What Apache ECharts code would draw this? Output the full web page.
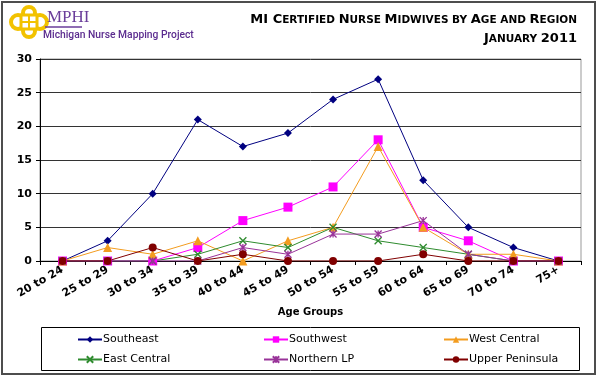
<!DOCTYPE html>
<html><head><meta charset="utf-8">
<script src="https://cdn.jsdelivr.net/npm/echarts@6/dist/echarts.min.js"></script>
<style>html,body{margin:0;padding:0;background:#fff}#c{width:600px;height:378px}</style>
</head><body><div id="c"></div>
<script>
const categories = ['20 to 24','25 to 29','30 to 34','35 to 39','40 to 44','45 to 49','50 to 54','55 to 59','60 to 64','65 to 69','70 to 74','75+'];
const southeast      = [0,3,10,21,17,19,24,27,12,5,2,0];
const southwest      = [0,0,0,2,6,8,11,18,5,3,0,0];
const westCentral    = [0,2,1,3,0,3,5,17,5,1,1,0];
const eastCentral    = [0,0,0,1,3,2,5,3,2,1,0,0];
const northernLP     = [0,0,0,0,2,1,4,4,6,1,0,0];
const upperPeninsula = [0,0,2,0,1,0,0,0,1,0,0,0];
const yTicks = [0,5,10,15,20,25,30];

const FONT = 'DejaVu Sans';
const chart = echarts.init(document.getElementById('c'));

function ser(name, data, color, symbol, size, hollow){
  return {name, type:'line', data, symbol, symbolSize:size,
    lineStyle:{color, width:1},
    itemStyle: hollow ? {color:'rgba(0,0,0,0)', borderColor:color, borderWidth:1.3} : {color},
    showSymbol:true, animation:false};
}
const xPath = 'path://M0,0 L10,10 M10,0 L0,10';
const starPath = 'path://M0,0 L10,10 M10,0 L0,10 M5,0 L5,10';

const richTitle = {
  b:{fontFamily:FONT, fontWeight:'bold', fontSize:13, fill:'#000', color:'#000'},
  s:{fontFamily:FONT, fontWeight:'bold', fontSize:10.5, fill:'#000', color:'#000'}
};
const legendCommon = {orient:'vertical', itemWidth:24, itemHeight:8, itemGap:9,
  textStyle:{fontFamily:FONT, fontSize:11, color:'#000', padding:[0,0,0,-4]}};
const gold = '#f2c200';

chart.setOption({
  animation:false,
  backgroundColor:'#fff',
  grid:{left:40, right:19, top:59, bottom:117, show:true, borderColor:'#999', borderWidth:1, backgroundColor:'#fff'},
  xAxis:{
    type:'category', data:categories, boundaryGap:true,
    name:'Age Groups', nameLocation:'middle', nameGap:46,
    nameTextStyle:{fontFamily:FONT, fontWeight:'bold', fontSize:10, color:'#000'},
    axisLine:{lineStyle:{color:'#000', width:1}},
    axisTick:{show:true, length:4, lineStyle:{color:'#000'}},
    axisLabel:{rotate:30, fontFamily:FONT, fontWeight:'bold', fontSize:11, color:'#000', margin:8, interval:0}
  },
  yAxis:{
    type:'value', min:0, max:30, interval:5,
    axisLine:{show:true, lineStyle:{color:'#000'}},
    axisTick:{show:true, length:4, lineStyle:{color:'#000'}},
    axisLabel:{fontFamily:FONT, fontWeight:'bold', fontSize:11, color:'#000', margin:8,
      formatter:v=>yTicks.includes(v)?String(v):''},
    splitLine:{lineStyle:{color:'#333', width:1}}
  },
  legend:[
    Object.assign({left:72, top:329, data:['Southeast','East Central']}, legendCommon),
    Object.assign({left:258, top:329, data:['Southwest','Northern LP']}, legendCommon),
    Object.assign({left:438, top:329, data:['West Central','Upper Peninsula']}, legendCommon)
  ],
  graphic:[
    {type:'rect', shape:{x:2, y:2, width:593, height:372}, style:{fill:null, stroke:'#4d4d4d', lineWidth:2}, z:-10},
    {type:'rect', shape:{x:41.5, y:327.5, width:538, height:43}, style:{fill:null, stroke:'#000', lineWidth:1}},
    {type:'text', x:577, y:20, style:{
      text:'{b|MI C}{s|ERTIFIED }{b|N}{s|URSE }{b|M}{s|IDWIVES BY }{b|A}{s|GE AND }{b|R}{s|EGION}',
      rich:richTitle, align:'right', verticalAlign:'middle'}},
    {type:'text', x:577, y:39, style:{
      text:'{b|J}{s|ANUARY }{b|2011}',
      rich:richTitle, align:'right', verticalAlign:'middle'}},
    // logo knot
    {type:'group', x:8, y:6, children:[
      {type:'circle', shape:{cx:10, cy:16, r:7}, style:{fill:null, stroke:gold, lineWidth:4}},
      {type:'circle', shape:{cx:32, cy:16, r:7}, style:{fill:null, stroke:gold, lineWidth:4}},
      {type:'circle', shape:{cx:21, cy:7, r:6}, style:{fill:null, stroke:gold, lineWidth:4}},
      {type:'circle', shape:{cx:21, cy:25, r:6}, style:{fill:null, stroke:gold, lineWidth:4}},
      {type:'rect', shape:{x:13, y:9, width:16, height:14}, style:{fill:'#fff', stroke:gold, lineWidth:3}},
      {type:'line', shape:{x1:13, y1:16, x2:29, y2:16}, style:{stroke:gold, lineWidth:2}},
      {type:'line', shape:{x1:21, y1:9, x2:21, y2:23}, style:{stroke:gold, lineWidth:2}}
    ]},
    {type:'text', x:47, y:9, style:{text:'MPHI', fontFamily:'Liberation Serif', fontSize:17, fill:'#6a3d9a'}},
    {type:'line', shape:{x1:45, y1:27, x2:82, y2:27}, style:{stroke:'#6a3d9a', lineWidth:1.5}},
    {type:'text', x:43, y:30, style:{text:'Michigan Nurse Mapping Project', fontFamily:'Roboto', fontWeight:500, fontSize:10.3, fill:'#5b2c8f'}}
  ],
  series:[
    ser('Southeast', southeast, '#000080', 'diamond', 8),
    ser('Southwest', southwest, '#ff00ff', 'rect', 9),
    ser('West Central', westCentral, '#f39c1f', 'triangle', 9),
    ser('East Central', eastCentral, '#2e8b2e', xPath, 7, true),
    ser('Northern LP', northernLP, '#993399', starPath, 7, true),
    ser('Upper Peninsula', upperPeninsula, '#800000', 'circle', 8)
  ]
});
</script></body></html>
